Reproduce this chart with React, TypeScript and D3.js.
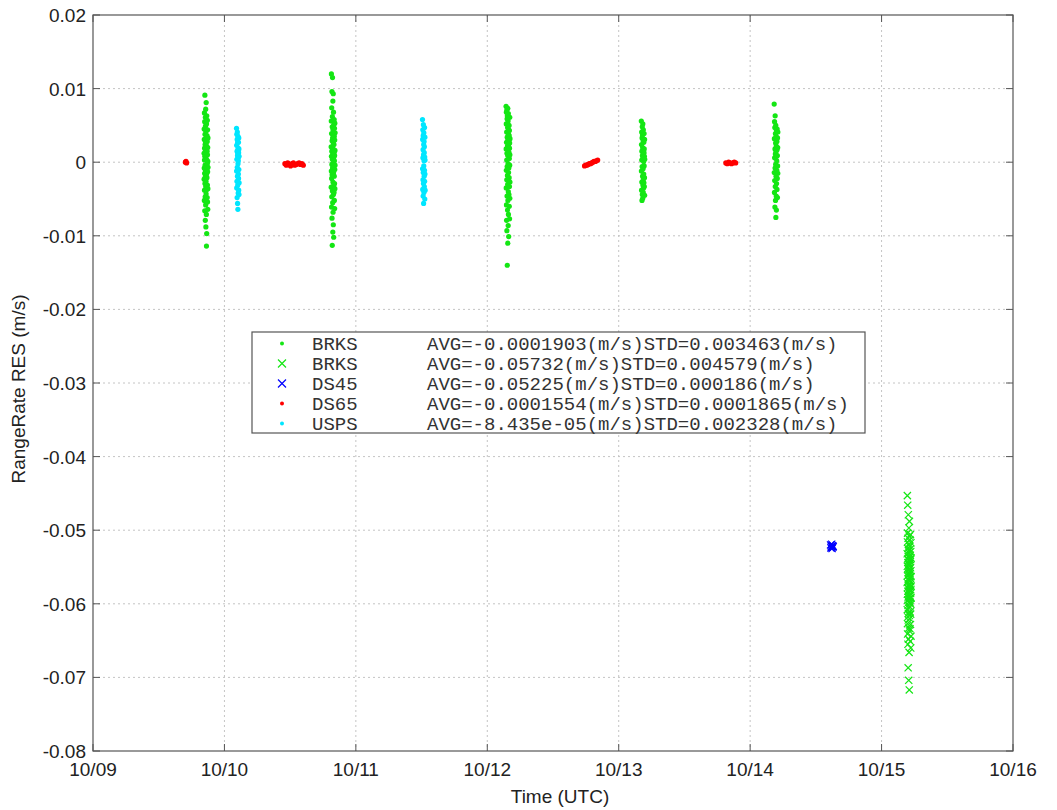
import React from 'react';
import * as d3 from 'd3';

// time is day of October (UTC), residuals in m/s
const xTickValues = [9, 10, 11, 12, 13, 14, 15, 16];
const xTickLabels = ['10/09', '10/10', '10/11', '10/12', '10/13', '10/14', '10/15', '10/16'];
const yTickValues = [0.02, 0.01, 0, -0.01, -0.02, -0.03, -0.04, -0.05, -0.06, -0.07, -0.08];

// BRKS range-rate passes (dots)
const brksPass1 = [0.0012, -0.0023, 0.0045, -0.0008, 0.0031, -0.0052, 0.0067, 0.0003, -0.0038, 0.0019, -0.0015, 0.0055, -0.0066, 0.0008, 0.0091, -0.0029, 0.0038, -0.0004, 0.0024, -0.0047, 0.0014, -0.0079, 0.0061, -0.0019, 0.0049, -0.0011, 0.0027, -0.0058, 0.0072, -0.0033, 0.0005, -0.0088, 0.0042, -0.0026, 0.0017, -0.0043, 0.0081, -0.0006, 0.0034, -0.0071, 0.0009, -0.0114, 0.0052, -0.0016, 0.0022, -0.0097, 0.0063, -0.0037, 0.0003, -0.0021, 0.0036, -0.0009, 0.0015, -0.0048, 0.0028, -0.0002, 0.0057, -0.0031, 0.0010, -0.0054, 0.0044, -0.0013, 0.0020, -0.0064, 0.0001, -0.0036, 0.0033, -0.0007];
const brksPass2 = [0.0021, -0.0034, 0.0056, -0.0012, 0.0120, 0.0008, -0.0061, 0.0039, -0.0022, 0.0074, -0.0047, 0.0015, -0.0003, 0.0096, -0.0076, 0.0029, -0.0017, 0.0048, -0.0113, 0.0004, 0.0062, -0.0039, 0.0115, -0.0008, 0.0033, -0.0055, 0.0011, -0.0095, 0.0083, -0.0027, 0.0044, -0.0068, 0.0018, -0.0001, 0.0093, -0.0085, 0.0026, -0.0044, 0.0068, -0.0014, 0.0037, -0.0102, 0.0051, -0.0031, 0.0007, -0.0006, 0.0024, -0.0041, 0.0013, 0.0058, -0.0019, 0.0035, -0.0052, 0.0002, 0.0046, -0.0029, 0.0009, -0.0063, 0.0030, -0.0010, 0.0053, -0.0036, 0.0016, -0.0004, 0.0040];
const brksPass3 = [0.0076, 0.0018, -0.0035, 0.0052, -0.0011, 0.0068, -0.0058, 0.0027, -0.0079, 0.0041, 0.0003, -0.0024, 0.0071, -0.0093, 0.0012, -0.0046, 0.0059, -0.0006, 0.0034, -0.0140, 0.0063, -0.0018, 0.0022, -0.0065, 0.0047, -0.0030, 0.0009, -0.0110, 0.0073, -0.0052, 0.0031, -0.0002, 0.0056, -0.0086, 0.0015, -0.0040, 0.0066, -0.0071, 0.0038, -0.0014, 0.0024, -0.0101, 0.0044, -0.0008, 0.0029, -0.0044, 0.0013, 0.0050, -0.0021, 0.0036, -0.0060, 0.0005, 0.0043, -0.0033, 0.0019, -0.0077, 0.0026, -0.0004, 0.0061, -0.0049, 0.0010, -0.0027, 0.0032];
const brksPass4 = [0.0056, -0.0012, 0.0024, -0.0038, 0.0041, 0.0003, -0.0027, 0.0015, -0.0052, 0.0033, -0.0006, 0.0048, -0.0044, 0.0009, 0.0037, -0.0019, 0.0020, -0.0049, 0.0052, -0.0031, 0.0006, -0.0009, 0.0029, -0.0041, 0.0044, -0.0023, 0.0012, -0.0035, 0.0001, -0.0016, 0.0027, -0.0028, 0.0013, 0.0039, -0.0005, 0.0018, -0.0033, 0.0008, -0.0021, 0.0031, -0.0045, 0.0004];
const brksPass5 = [0.0079, -0.0014, 0.0032, -0.0041, 0.0055, 0.0006, -0.0025, 0.0047, -0.0061, 0.0018, -0.0008, 0.0063, -0.0033, 0.0011, 0.0039, -0.0052, 0.0026, -0.0003, 0.0050, -0.0075, 0.0014, -0.0019, 0.0035, -0.0046, 0.0022, -0.0065, 0.0043, -0.0029, 0.0008, 0.0002, -0.0011, 0.0028, -0.0037, 0.0017, 0.0045, -0.0022, 0.0009, -0.0048, 0.0033, -0.0005, 0.0020, -0.0015, 0.0041];
// BRKS biased pass (crosses)
const brksXPass = [-0.0571, -0.0532, -0.0608, -0.0549, -0.0453, -0.0587, -0.0516, -0.0627, -0.0562, -0.0504, -0.0641, -0.0578, -0.0539, -0.0466, -0.0595, -0.0552, -0.0618, -0.0525, -0.0583, -0.0655, -0.0544, -0.0602, -0.0511, -0.0566, -0.0687, -0.0591, -0.0536, -0.0622, -0.0479, -0.0558, -0.0613, -0.0528, -0.0575, -0.0648, -0.0547, -0.0598, -0.0519, -0.0568, -0.0704, -0.0633, -0.0541, -0.0589, -0.0497, -0.0561, -0.0606, -0.0531, -0.0580, -0.0666, -0.0553, -0.0594, -0.0508, -0.0573, -0.0717, -0.0616, -0.0545, -0.0585, -0.0488, -0.0564, -0.0637, -0.0522, -0.0556, -0.0597, -0.0537, -0.0582, -0.0620, -0.0548, -0.0569, -0.0604, -0.0513, -0.0589, -0.0634, -0.0559, -0.0526, -0.0577, -0.0611, -0.0543, -0.0592, -0.0651, -0.0565, -0.0534, -0.0599, -0.0574, -0.0506, -0.0628, -0.0551, -0.0586, -0.0540, -0.0614, -0.0570, -0.0660, -0.0529, -0.0581, -0.0555, -0.0601, -0.0517, -0.0644, -0.0563, -0.0592, -0.0538, -0.0576];
// DS45 (crosses)
const ds45Pass = [-0.0520, -0.0524, -0.0522, -0.0519, -0.0525, -0.0521, -0.0523, -0.0522];
// DS65 (dots)
const ds65Pass1 = [0.0000, 0.0001, -0.0001];
const ds65Pass2 = [-0.0002, -0.0004, -0.0001, -0.0003, -0.0005, -0.0002, -0.0001, -0.0004, -0.0003, -0.0002, -0.0001, -0.0003, -0.0002, -0.0004];
const ds65Pass3 = [-0.0005, -0.0004, -0.0004, -0.0003, -0.0002, -0.0002, -0.0001, 0.0000, 0.0001, 0.0001, 0.0002, 0.0003];
const ds65Pass4 = [-0.0001, -0.0002, 0.0000, -0.0001, -0.0002, -0.0001, 0.0000, -0.0001];
// USPS (dots)
const uspsPass1 = [0.0046, -0.0012, 0.0023, -0.0035, 0.0038, 0.0004, -0.0026, 0.0015, -0.0048, 0.0031, -0.0007, 0.0041, -0.0019, 0.0009, -0.0056, 0.0027, -0.0031, 0.0012, -0.0064, 0.0035, -0.0002, 0.0019, -0.0042, 0.0006, 0.0002, -0.0016, 0.0027, -0.0022, 0.0013, -0.0038, 0.0033, -0.0010, 0.0018, -0.0044, 0.0008, -0.0028];
const uspsPass2 = [0.0058, -0.0009, 0.0031, -0.0037, 0.0044, 0.0006, -0.0024, 0.0017, -0.0046, 0.0036, -0.0014, 0.0051, -0.0029, 0.0010, -0.0056, 0.0024, -0.0005, 0.0040, -0.0041, 0.0002, 0.0028, -0.0019, 0.0013, -0.0033, 0.0021, -0.0011, 0.0047, -0.0026, 0.0007, -0.0050, 0.0034, -0.0016, 0.0003, -0.0038];

// pass start / end times (day of month)
const brksTimes = [[9.845, 9.875], [10.812, 10.842], [12.143, 12.173], [13.172, 13.198], [14.183, 14.211]];
const brksXTimes = [[15.195, 15.225]];
const ds45Times = [[14.612, 14.632]];
const ds65Times = [[9.703, 9.712], [10.46, 10.6], [12.74, 12.84], [13.815, 13.89]];
const uspsTimes = [[10.092, 10.112], [11.507, 11.527]];

const legendNames = ['BRKS', 'BRKS', 'DS45', 'DS65', 'USPS'];
const legendAvg = ['-0.0001903', '-0.05732', '-0.05225', '-0.0001554', '-8.435e-05'];
const legendStd = ['0.003463', '0.004579', '0.000186', '0.0001865', '0.002328'];

const series = [
  { color: '#14e614', marker: 'dot', passes: [brksPass1, brksPass2, brksPass3, brksPass4, brksPass5], times: brksTimes },
  { color: '#14e614', marker: 'x', passes: [brksXPass], times: brksXTimes },
  { color: '#0000ff', marker: 'x', passes: [ds45Pass], times: ds45Times },
  { color: '#ff0000', marker: 'dot', passes: [ds65Pass1, ds65Pass2, ds65Pass3, ds65Pass4], times: ds65Times },
  { color: '#00e6ff', marker: 'dot', passes: [uspsPass1, uspsPass2], times: uspsTimes },
];

const W = 1057;
const H = 810;
const left = 93;
const right = 1013;
const top = 15;
const bottom = 751;

const sans = 'Liberation Sans, Arial, sans-serif';
const mono = 'Liberation Mono, Courier New, monospace';

function Marker({ type, x, y, color, size }: { type: string; x: number; y: number; color: string; size: number }) {
  if (type === 'dot') return <circle cx={x} cy={y} r={size} fill={color} />;
  return (
    <path
      d={`M${x - size},${y - size}L${x + size},${y + size}M${x - size},${y + size}L${x + size},${y - size}`}
      stroke={color}
      strokeWidth={1.2}
      fill="none"
    />
  );
}

export default function App() {
  const x = d3.scaleLinear().domain([9, 16]).range([left, right]);
  const y = d3.scaleLinear().domain([-0.08, 0.02]).range([bottom, top]);

  const points: { px: number; py: number; color: string; marker: string }[] = [];
  series.forEach(s => {
    s.passes.forEach((vals, pi) => {
      const t = d3.scaleLinear().domain([0, Math.max(1, vals.length - 1)]).range(s.times[pi]);
      vals.forEach((v, i) => points.push({ px: x(t(i)), py: y(v), color: s.color, marker: s.marker }));
    });
  });

  const tickLen = 7;
  const axisColor = '#555';

  return (
    <svg width={W} height={H} style={{ position: 'absolute', left: 0, top: 0, background: '#fff' }}>
      <rect width={W} height={H} fill="#fff" />
      {/* grid */}
      {xTickValues.slice(1, -1).map(d => (
        <line key={'gx' + d} x1={x(d)} x2={x(d)} y1={top} y2={bottom} stroke="#c4c4c4" strokeDasharray="2,3" />
      ))}
      {yTickValues.slice(1, -1).map(d => (
        <line key={'gy' + d} x1={left} x2={right} y1={y(d)} y2={y(d)} stroke="#c4c4c4" strokeDasharray="2,3" />
      ))}

      {/* points */}
      {points.map((p, i) => (
        <Marker key={i} type={p.marker} x={p.px} y={p.py} color={p.color} size={p.marker === 'dot' ? 2.6 : 3.6} />
      ))}

      {/* box + ticks */}
      <rect x={left} y={top} width={right - left} height={bottom - top} fill="none" stroke={axisColor} strokeWidth={1.2} />
      {xTickValues.map(d => (
        <g key={'tx' + d}>
          <line x1={x(d)} x2={x(d)} y1={bottom} y2={bottom - tickLen} stroke={axisColor} />
          <line x1={x(d)} x2={x(d)} y1={top} y2={top + tickLen} stroke={axisColor} />
        </g>
      ))}
      {yTickValues.map(d => (
        <g key={'ty' + d}>
          <line x1={left} x2={left + tickLen} y1={y(d)} y2={y(d)} stroke={axisColor} />
          <line x1={right} x2={right - tickLen} y1={y(d)} y2={y(d)} stroke={axisColor} />
        </g>
      ))}

      {/* tick labels */}
      {xTickValues.map((d, i) => (
        <text key={'lx' + d} x={x(d)} y={776} textAnchor="middle" fontFamily={sans} fontSize={19} fill="#222">
          {xTickLabels[i]}
        </text>
      ))}
      {yTickValues.map(d => (
        <text key={'ly' + d} x={86} y={y(d) + 7} textAnchor="end" fontFamily={sans} fontSize={19} fill="#222">
          {String(+d.toFixed(2))}
        </text>
      ))}

      {/* axis titles */}
      <text x={560} y={803} textAnchor="middle" fontFamily={sans} fontSize={19} fill="#222">
        Time (UTC)
      </text>
      <text transform={`translate(25,${(top + bottom) / 2 + 6}) rotate(-90)`} textAnchor="middle" fontFamily={sans} fontSize={19} fill="#222">
        RangeRate RES (m/s)
      </text>

      {/* legend */}
      <rect x={252} y={332} width={613} height={101} fill="#fff" stroke={axisColor} strokeWidth={1.2} />
      {legendNames.map((name, i) => {
        const cy = 343.5 + i * 20;
        const s = series[i];
        return (
          <g key={'lg' + i}>
            <Marker type={s.marker} x={282} y={cy} color={s.color} size={s.marker === 'dot' ? 2 : 4} />
            <text x={312} y={cy + 6} fontFamily={mono} fontSize={19} fill="#333">
              {name}
            </text>
            <text x={427} y={cy + 6} fontFamily={mono} fontSize={19} fill="#333">
              {`AVG=${legendAvg[i]}(m/s)STD=${legendStd[i]}(m/s)`}
            </text>
          </g>
        );
      })}
    </svg>
  );
}
